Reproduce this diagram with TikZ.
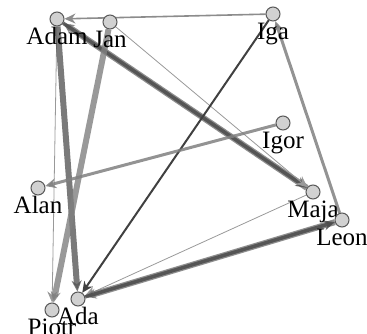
\documentclass[tikz,border=0pt]{standalone}
\usepackage{fontspec}
\setmainfont{Liberation Serif}
\usetikzlibrary{arrows.meta,backgrounds}

\begin{document}
\begin{tikzpicture}[x=1pt,y=1pt,>={Stealth[length=11pt,width=10pt]},
 font=\fontsize{25}{25}\selectfont,
 person/.style={circle,draw=black!65,fill=black!18,line width=1pt,
  minimum size=14pt,inner sep=0pt},
 every label/.style={inner sep=0pt,text height=18pt,text depth=0pt},
 weak/.style={line width=.8pt,draw=black!40},
 light/.style={line width=1.6pt,draw=black!45},
 medium/.style={line width=3pt,draw=black!50,opacity=.85},
 dark/.style={line width=2pt,draw=black!75},
 heavy/.style={line width=6pt,draw=black!55,opacity=.8},
 darkheavy/.style={line width=3.5pt,draw=black!70,opacity=.85}]
\useasboundingbox (0,0) rectangle (367,-334);
\node[person,label=below:Adam] (adam) at (57,-19) {};
\node[person,label=below:Jan] (jan) at (110,-22) {};
\node[person,label=below:Iga] (iga) at (273,-14) {};
\node[person,label=below:Igor] (igor) at (283,-123) {};
\node[person,label=below:Alan] (alan) at (38,-188) {};
\node[person,label=below:Maja] (maja) at (313,-192) {};
\node[person,label=below:Leon] (leon) at (342,-220) {};
\node[person,label=below:Piotr] (piotr) at (52,-310) {};
\node[person,label=below:Ada] (ada) at (78,-299) {};
\begin{scope}[on background layer]
\path[->]
 (iga) edge[light] (adam)
 (maja) edge[heavy] (adam)
 (adam) edge[darkheavy] (maja)
 (jan) edge[weak] (maja)
 (adam) edge[weak] (piotr)
 (adam) edge[heavy,draw=black!65] (ada)
 (jan) edge[heavy,draw=black!50] (piotr)
 (iga) edge[dark] (ada)
 (leon) edge[medium] (iga)
 (igor) edge[medium] (alan)
 (maja) edge[weak] (ada)
 (leon) edge[heavy] (ada)
 (ada) edge[darkheavy] (leon);
\end{scope}
\end{tikzpicture}
\end{document}
